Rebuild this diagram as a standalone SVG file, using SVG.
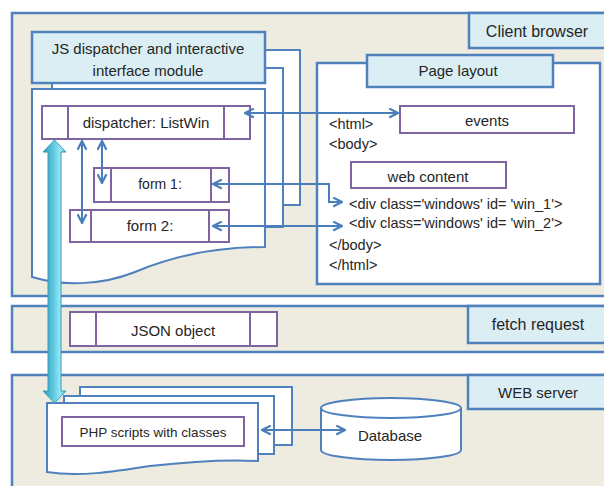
<svg xmlns="http://www.w3.org/2000/svg" width="604" height="486" viewBox="0 0 604 486">
<defs>
<style>
.zone{fill:#EEECE1;stroke:#4F81BD;stroke-width:2.5}
.lbl{fill:#DBEEF4;stroke:#4F81BD;stroke-width:2.5}
.page{fill:#FFFFFF;stroke:#4F81BD;stroke-width:2}
.pbox{fill:#FFFFFF;stroke:#8064A2;stroke-width:2}
.t{font-family:"Liberation Sans",Arial,sans-serif;font-size:15px;fill:#262626;text-anchor:middle}
.h{font-family:"Liberation Sans",Arial,sans-serif;font-size:14.5px;fill:#262626}
.c{fill:none;stroke:#4A7EBB;stroke-width:2}
</style>
<marker id="ah" viewBox="0 0 10 10" refX="9" refY="5" markerWidth="11" markerHeight="11" markerUnits="userSpaceOnUse" orient="auto-start-reverse">
<path d="M1,1 L9,5 L1,9" fill="none" stroke="#4A7EBB" stroke-width="2"/>
</marker>
<linearGradient id="cy" x1="0" y1="0" x2="1" y2="0">
<stop offset="0" stop-color="#2F9BB8"/>
<stop offset="0.45" stop-color="#5CC8E0"/>
<stop offset="0.75" stop-color="#9AE8F6"/>
<stop offset="1" stop-color="#4FB8D2"/>
</linearGradient>
</defs>

<g id="client-browser">
<rect class="zone" x="12" y="13" width="600" height="283"/>
<rect class="lbl" x="469" y="13" width="143" height="35"/>
<text class="t" x="537" y="37" style="font-size:16px">Client browser</text>
</g>

<g id="fetch-request">
<rect class="zone" x="12" y="306" width="600" height="46"/>
<rect class="lbl" x="468" y="306" width="144" height="37"/>
<text class="t" x="538" y="330" style="font-size:16px">fetch request</text>
</g>

<g id="web-server">
<rect class="zone" x="12" y="375" width="600" height="120"/>
<rect class="lbl" x="468" y="375" width="144" height="34"/>
<text class="t" x="538" y="398">WEB server</text>
</g>

<g id="js-module">
<rect x="70" y="50" width="230" height="155" fill="#FFFFFF"/>
<path d="M265,50 H300 V205 H283" fill="none" stroke="#4F81BD" stroke-width="2"/>
<rect class="page" x="52" y="68" width="231" height="159"/>
<path class="page" d="M32,89 H265 V247 C222,247 175,255 135,272 C100,286 62,286 32,277 Z"/>
<rect class="lbl" x="32" y="32" width="233" height="51"/>
<text class="t" x="148" y="54">JS dispatcher and interactive</text>
<text class="t" x="148" y="76">interface module</text>
</g>

<g id="dispatcher">
<rect class="pbox" x="42" y="106" width="208" height="33"/>
<path d="M68,106 V139 M224,106 V139" stroke="#8064A2" stroke-width="2"/>
<text class="t" x="146" y="128">dispatcher: ListWin</text>
</g>

<g id="form1">
<rect class="pbox" x="94" y="168" width="135" height="34"/>
<path d="M111,168 V202 M211,168 V202" stroke="#8064A2" stroke-width="2"/>
<text class="t" x="160" y="189" style="font-size:14px">form 1:</text>
</g>

<g id="form2">
<rect class="pbox" x="70" y="210" width="159" height="32"/>
<path d="M91,210 V242 M209,210 V242" stroke="#8064A2" stroke-width="2"/>
<text class="t" x="150" y="231">form 2:</text>
</g>

<g id="page-layout">
<rect class="page" x="317" y="63" width="283" height="221" style="stroke-width:2.5"/>
<rect class="lbl" x="367" y="55" width="186" height="32"/>
<text class="t" x="458" y="76">Page layout</text>
<text class="h" x="329" y="129">&lt;html&gt;</text>
<text class="h" x="329" y="149">&lt;body&gt;</text>
<text class="h" x="349" y="209">&lt;div class='windows'  id= 'win_1'&gt;</text>
<text class="h" x="349" y="228">&lt;div class='windows'  id= 'win_2'&gt;</text>
<text class="h" x="329" y="250">&lt;/body&gt;</text>
<text class="h" x="329" y="270">&lt;/html&gt;</text>
</g>

<g id="events">
<rect class="pbox" x="400" y="106" width="174" height="27"/>
<text class="t" x="487" y="126">events</text>
</g>

<g id="web-content">
<rect class="pbox" x="351" y="162" width="155" height="26"/>
<text class="t" x="428" y="182">web content</text>
</g>

<g id="json-object">
<rect class="pbox" x="70" y="312" width="207" height="34"/>
<path d="M96,312 V346 M250,312 V346" stroke="#8064A2" stroke-width="2"/>
<text class="t" x="173" y="336">JSON object</text>
</g>

<g id="php-scripts">
<rect class="page" x="80" y="387" width="212" height="58"/>
<rect class="page" x="64" y="396" width="210" height="58"/>
<path class="page" d="M47,403 H258 V461 C222,459 185,462 150,466 C112,472 78,477 47,472 Z"/>
<rect class="pbox" x="62" y="417" width="182" height="29"/>
<text class="t" x="153" y="437" style="font-size:13.5px">PHP scripts with classes</text>
</g>

<g id="database">
<path d="M321,408 V450 A70,10 0 0 0 461,450 V408" fill="#FFFFFF" stroke="#4F81BD" stroke-width="2"/>
<ellipse cx="391" cy="408" rx="70" ry="10" fill="#FFFFFF" stroke="#4F81BD" stroke-width="2"/>
<text class="t" x="390" y="441">Database</text>
</g>

<g id="connectors">
<path class="c" d="M245,113 H398" marker-start="url(#ah)" marker-end="url(#ah)"/>
<path class="c" d="M213,184 H329 V202 H342" marker-start="url(#ah)" marker-end="url(#ah)"/>
<path class="c" d="M213,226 H342" marker-start="url(#ah)" marker-end="url(#ah)"/>
<path class="c" d="M82,141 V223" marker-start="url(#ah)" marker-end="url(#ah)"/>
<path class="c" d="M102,141 V183" marker-start="url(#ah)" marker-end="url(#ah)"/>
<path class="c" d="M262,430 H345" marker-start="url(#ah)" marker-end="url(#ah)"/>
<polygon points="54.5,140 66,152 61,152 61,391 66,391 54.5,403 43,391 48,391 48,152 43,152" fill="url(#cy)" stroke="#3A9AB6" stroke-width="1"/>
</g>
</svg>
